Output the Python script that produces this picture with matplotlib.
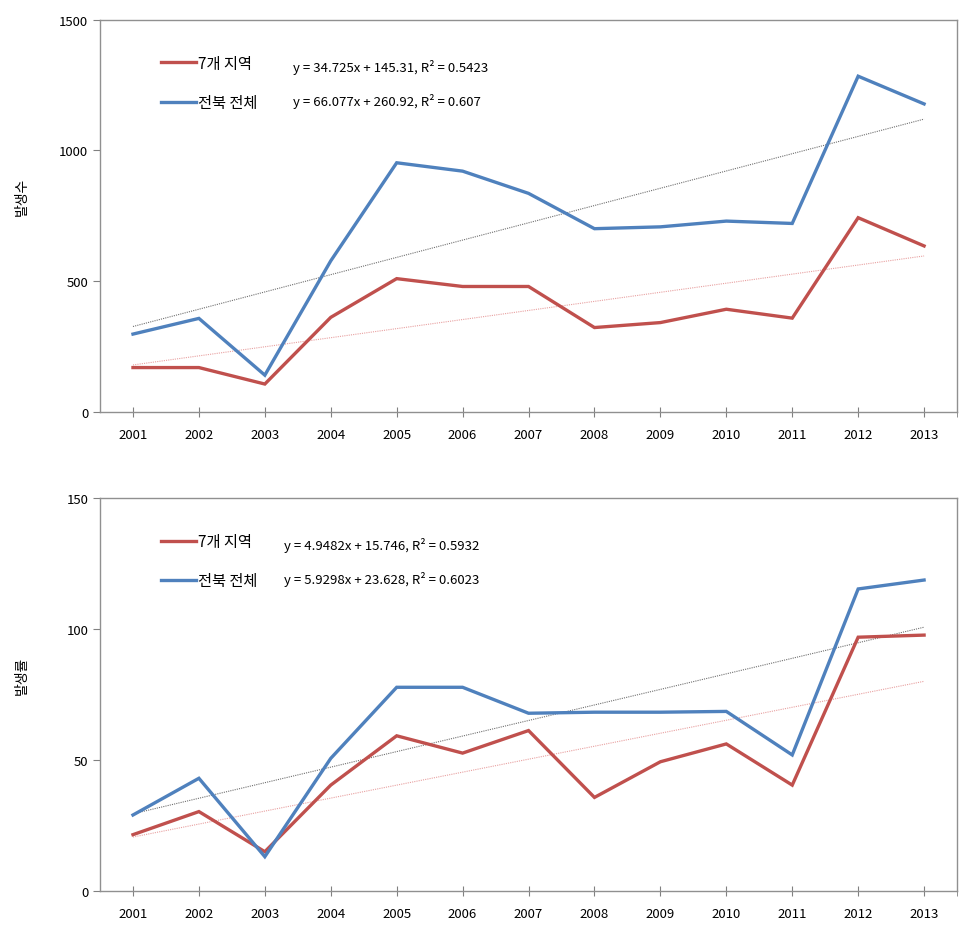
import matplotlib
matplotlib.use("Agg")
import matplotlib.pyplot as plt
import numpy as np

plt.rcParams['font.family'] = ['Noto Sans CJK KR', 'DejaVu Sans']

years = ["2001", "2002", "2003", "2004", "2005", "2006", "2007",
         "2008", "2009", "2010", "2011", "2012", "2013"]
series_names = ["7개 지역", "전북 전체"]

# 발생수 (counts)
count_region7 = [170, 170, 107, 362, 510, 480, 480, 323, 342, 393, 359, 743, 635]
count_jeonbuk = [298, 358, 141, 578, 953, 921, 836, 701, 708, 730, 721, 1284, 1178]
count_fit = [(34.725, 145.31), (66.077, 260.92)]
count_eq = ["y = 34.725x + 145.31, R² = 0.5423", "y = 66.077x + 260.92, R² = 0.607"]

# 발생률 (rates)
rate_region7 = [21.6, 30.4, 15.1, 40.5, 59.3, 52.7, 61.3, 35.8, 49.4, 56.2, 40.5, 96.9, 97.7]
rate_jeonbuk = [29.1, 43.1, 13.2, 50.7, 77.8, 77.8, 67.9, 68.3, 68.3, 68.6, 52.0, 115.3, 118.7]
rate_fit = [(4.9482, 15.746), (5.9298, 23.628)]
rate_eq = ["y = 4.9482x + 15.746, R² = 0.5932", "y = 5.9298x + 23.628, R² = 0.6023"]

COLORS = ["#C0504D", "#4F81BD"]
TREND_COLORS = ["#E8A0A0", "#707070"]


def draw_panel(ax, data, fits, eqs, ymax, ystep, ylabel, eq_x):
    x = np.arange(len(years))
    for i, (vals, (m, b)) in enumerate(zip(data, fits)):
        ax.plot(x, vals, color=COLORS[i], lw=2.4, solid_joinstyle="miter",
                label=series_names[i], zorder=3)
        t = np.arange(1, len(years) + 1)
        ax.plot(x, m * t + b, color=TREND_COLORS[i], lw=0.8, ls=(0, (1, 1)), zorder=2)
    ax.set_xlim(-0.5, len(years) - 0.5)
    ax.set_ylim(0, ymax)
    ax.set_yticks(np.arange(0, ymax + 1, ystep))
    ax.set_xticks(x)
    ax.set_xticklabels(years)
    ax.set_xticks([len(years) - 0.5], minor=True)
    ax.tick_params(axis="x", which="both", direction="inout", length=7, color="#808080",
                   labelsize=9.5, pad=8)
    ax.tick_params(axis="y", direction="out", length=5, color="#808080", labelsize=9.5)
    for s in ax.spines.values():
        s.set_color("#909090")
        s.set_linewidth(1.0)
    ax.set_ylabel(ylabel, fontsize=10)
    ax.yaxis.set_label_coords(-0.083, 0.55)
    ax.legend(loc="upper left", bbox_to_anchor=(0.055, 0.946), frameon=False,
              fontsize=11, handlelength=2.3, handletextpad=0.1, labelspacing=1.46)
    for j, e in enumerate(eqs):
        ax.text(eq_x, 0.882 - j * 0.088, e, transform=ax.transAxes, fontsize=9.5,
                va="center", ha="left")


fig = plt.figure(figsize=(9.73, 9.37), dpi=100)
ax1 = fig.add_axes([0.1028, 0.5592, 0.8808, 0.4187])
ax2 = fig.add_axes([0.1028, 0.0477, 0.8808, 0.4198])

draw_panel(ax1, [count_region7, count_jeonbuk], count_fit, count_eq, 1500, 500, "발생수", 0.225)
draw_panel(ax2, [rate_region7, rate_jeonbuk], rate_fit, rate_eq, 150, 50, "발생률", 0.215)

fig.savefig("out.png", dpi=100)
